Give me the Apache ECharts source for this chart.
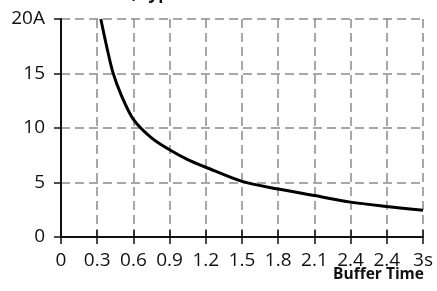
<!DOCTYPE html>
<html><head><meta charset="utf-8">
<script src="https://cdn.jsdelivr.net/npm/echarts@6/dist/echarts.min.js"></script>
<style>html,body{margin:0;padding:0;background:#fff}#c{width:437px;height:291px}</style>
</head><body><div id="c"></div>
<script>
const timeValues = [0.33, 0.38, 0.43, 0.5, 0.6, 0.75, 0.9, 1.05, 1.2, 1.5, 1.8, 2.1, 2.4, 2.7, 3.0];
const currentValues = [20, 17.4, 15.1, 13, 10.8, 9.1, 8, 7.1, 6.4, 5.1, 4.4, 3.8, 3.2, 2.8, 2.45];
const xTickLabels = ['0','0.3','0.6','0.9','1.2','1.5','1.8','2.1','2.4','2.4','3s'];
const yTickLabels = ['0','5','10','15','20A'];
const xTitle = 'Buffer Time';
const topTitle = 'Buffer Current, typ.';

const FONT = '"Open Sans", "Noto Sans", sans-serif';
const chart = echarts.init(document.getElementById('c'));
const gridLine = {show:true, lineStyle:{color:'#8a8a8a', width:1.5, type:[9,5]}};
chart.setOption({
  animation:false,
  backgroundColor:'#fff',
  title:{text:xTitle, right:13, top:267, padding:0, textStyle:{fontFamily:FONT, fontWeight:'bold', fontSize:15.5, color:'#111'}},
  graphic:[{type:'text', left:8, top:-14, style:{text:topTitle, font:'bold 17px "Open Sans", sans-serif', fill:'#111'}}],
  grid:{left:61, right:14, top:19, bottom:54},
  xAxis:[{
    type:'value', min:0, max:3, interval:0.3,
    axisLine:{show:true, onZero:false, lineStyle:{color:'#111', width:2}},
    axisTick:{show:true, length:7, lineStyle:{color:'#111', width:1.5}},
    axisLabel:{margin:14, fontFamily:FONT, fontSize:19, color:'#111',
      formatter:v=>xTickLabels[Math.round(v/0.3)]},
    splitLine:gridLine
  },{
    type:'value', min:0, max:3, interval:0.3, position:'bottom',
    axisLine:{show:false},
    axisTick:{show:true, inside:true, length:7, lineStyle:{color:'#111', width:1.5}},
    axisLabel:{show:false}, splitLine:{show:false}
  }],
  yAxis:{
    type:'value', min:0, max:20, interval:5,
    axisLine:{show:true, onZero:false, lineStyle:{color:'#111', width:2}},
    axisTick:{show:true, length:7, lineStyle:{color:'#111', width:1.5}},
    axisLabel:{margin:16, fontFamily:FONT, fontSize:19, color:'#111',
      formatter:v=>yTickLabels[Math.round(v/5)]},
    splitLine:gridLine
  },
  series:[{
    type:'line', smooth:0.3, showSymbol:false, symbol:'none',
    data:timeValues.map((t,i)=>[t,currentValues[i]]),
    lineStyle:{color:'#000', width:3}, clip:false
  }]
});
</script></body></html>
